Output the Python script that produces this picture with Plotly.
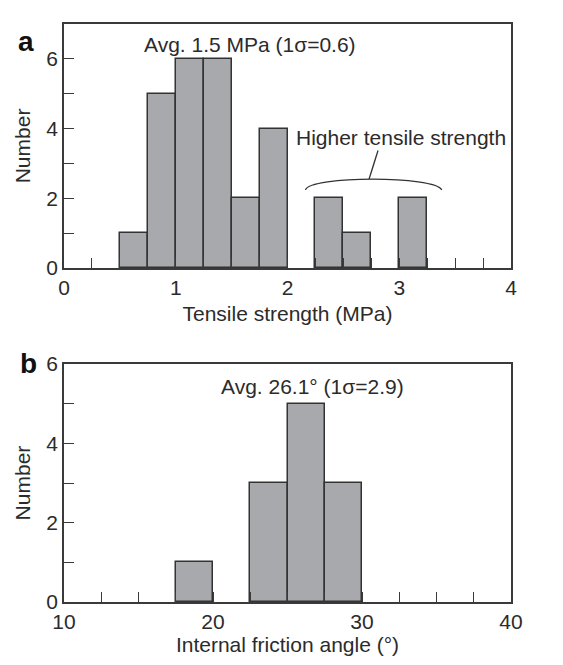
import plotly.graph_objects as go

# Panel a: tensile strength histogram (bin width 0.25 MPa)
ts_bin_left = [0.5, 0.75, 1.0, 1.25, 1.5, 1.75, 2.25, 2.5, 3.0]
ts_counts = [1, 5, 6, 6, 2, 4, 2, 1, 2]
ts_width = 0.25

# Panel b: internal friction angle histogram (bin width 2.5 deg)
fa_bin_left = [17.5, 22.5, 25.0, 27.5]
fa_counts = [1, 3, 5, 3]
fa_width = 2.5

# bracket annotation (data coords)
brace_x = [2.16, 2.20, 3.32, 3.38]
brace_y = [2.24, 2.65, 2.65, 2.24]
pointer_x = [2.73, 2.81]
pointer_y = [2.55, 3.37]

FONT = "Liberation Sans, Arial, sans-serif"
TXT = "#2b2b2b"
AX = "#3a3a3a"
BAR = "#a8a9ac"
FS = 21

fig = go.Figure()
fig.add_trace(go.Bar(
    x=[l + ts_width / 2 for l in ts_bin_left], y=ts_counts, width=ts_width,
    marker=dict(color=BAR, line=dict(color="#333333", width=1.5)),
    xaxis="x", yaxis="y", showlegend=False))
fig.add_trace(go.Bar(
    x=[l + fa_width / 2 for l in fa_bin_left], y=fa_counts, width=fa_width,
    marker=dict(color=BAR, line=dict(color="#333333", width=1.5)),
    xaxis="x2", yaxis="y2", showlegend=False))

# bracket curve
path = (f"M {brace_x[0]},{brace_y[0]} C {brace_x[1]},{brace_y[1]} "
        f"{brace_x[2]},{brace_y[2]} {brace_x[3]},{brace_y[3]}")
fig.add_shape(type="path", path=path, xref="x", yref="y",
              line=dict(color="#333333", width=1.3))
fig.add_shape(type="line", x0=pointer_x[0], y0=pointer_y[0], x1=pointer_x[1], y1=pointer_y[1],
              xref="x", yref="y", line=dict(color="#333333", width=1.3))

common_axis = dict(showline=True, mirror=True, linecolor=AX, linewidth=1.5,
                   ticks="inside", ticklen=10, tickwidth=1.3, tickcolor=AX,
                   showgrid=False, zeroline=False,
                   tickfont=dict(family=FONT, size=FS, color=TXT))
minor_t = dict(ticks="inside", ticklen=10, tickwidth=1.3, tickcolor=AX)
title_font = dict(family=FONT, size=FS, color=TXT)

fig.update_layout(
    width=563, height=665,
    margin=dict(l=64, r=52, t=14, b=63),
    paper_bgcolor="white", plot_bgcolor="white",
    bargap=0,
    font=dict(family=FONT, color=TXT),
    xaxis=dict(domain=[0, 1], anchor="y", range=[0, 4], dtick=1,
               minor=dict(dtick=0.25, **minor_t),
               title=dict(text="Tensile strength (MPa)", font=title_font, standoff=8),
               **common_axis),
    yaxis=dict(domain=[0.578, 1.0], anchor="x", range=[0, 7], dtick=2,
               minor=dict(dtick=1, **minor_t),
               title=dict(text="Number", font=title_font, standoff=10),
               **common_axis),
    xaxis2=dict(domain=[0, 1], anchor="y2", range=[10, 40], dtick=10,
                minor=dict(dtick=2.5, **minor_t),
                title=dict(text="Internal friction angle (°)", font=title_font, standoff=5),
                **common_axis),
    yaxis2=dict(domain=[0, 0.4116], anchor="x2", range=[0, 6], dtick=2,
                minor=dict(dtick=1, **minor_t),
                title=dict(text="Number", font=title_font, standoff=10),
                **common_axis),
    annotations=[
        dict(text="Avg. 1.5 MPa (1σ=0.6)", x=1.66, y=6.4, xref="x", yref="y",
             showarrow=False, font=title_font),
        dict(text="Higher tensile strength", x=3.02, y=3.74, xref="x", yref="y",
             showarrow=False, font=title_font),
        dict(text="Avg. 26.1° (1σ=2.9)", x=26.7, y=5.43, xref="x2", yref="y2",
             showarrow=False, font=title_font),
        dict(text="<b>a</b>", x=16, y=14, xref="paper", yref="paper",
             showarrow=False, font=dict(family=FONT, size=28, color="#111")),
        dict(text="<b>b</b>", x=18, y=359, xref="paper", yref="paper",
             showarrow=False, font=dict(family=FONT, size=28, color="#111")),
    ],
)

# convert panel-label pixel positions to paper coords
plot_h = 665 - 14 - 63
plot_w = 563 - 64 - 52
for ann in fig.layout.annotations:
    if ann.text in ("<b>a</b>", "<b>b</b>"):
        px, py = ann.x, ann.y
        ann.x = (px - 64) / plot_w
        ann.y = (665 - 63 - py) / plot_h

fig.write_html("out.html")
